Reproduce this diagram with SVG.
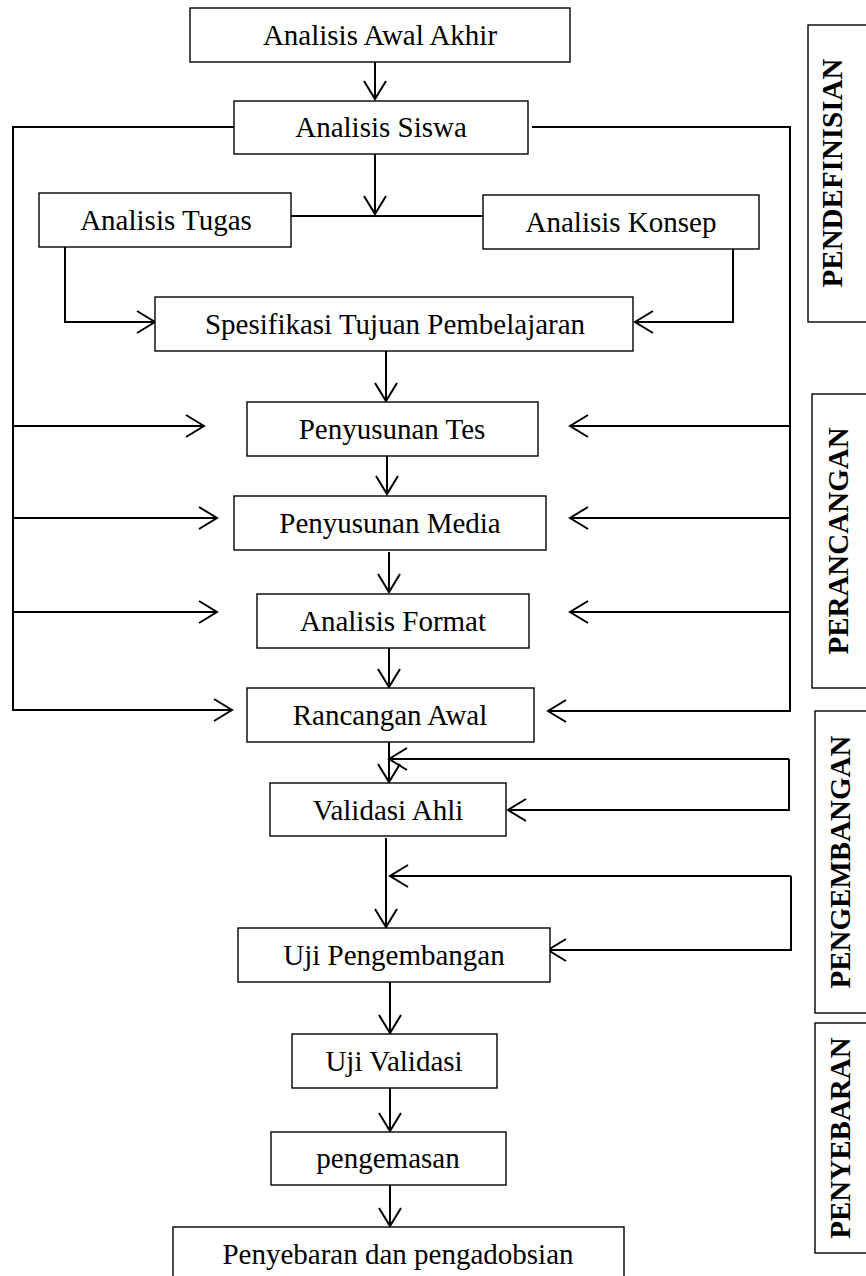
<svg xmlns="http://www.w3.org/2000/svg" width="866" height="1276" viewBox="0 0 866 1276">
<style>
.box{fill:#fff;stroke:#000;stroke-width:1.4}
.t{font-family:"Liberation Serif","Times New Roman",serif;font-size:29px;fill:#000;text-anchor:middle}
.s{font-family:"Liberation Serif","Times New Roman",serif;font-size:29px;font-weight:bold;fill:#000;text-anchor:middle}
.c{fill:none;stroke:#000;stroke-width:2}
</style>
<defs>
<marker id="arr" markerUnits="userSpaceOnUse" markerWidth="24" markerHeight="26" viewBox="0 0 24 26" refX="20" refY="13" orient="auto">
<path d="M2,2 L20,13 L2,24" fill="none" stroke="#000" stroke-width="2"/>
</marker>
</defs>
<rect width="866" height="1276" fill="#fff"/>
<g id="connectors">
<line class="c" x1="375" y1="62" x2="375" y2="99" marker-end="url(#arr)"/>
<polyline class="c" points="234,127 13,127 13,710 232,710" marker-end="url(#arr)"/>
<polyline class="c" points="532,127 790,127 790,711 548,711" marker-end="url(#arr)"/>
<line class="c" x1="375" y1="154" x2="375" y2="214" marker-end="url(#arr)"/>
<line class="c" x1="291" y1="216" x2="483" y2="216"/>
<polyline class="c" points="65,247 65,322 155,322" marker-end="url(#arr)"/>
<polyline class="c" points="733,249 733,322 635,322" marker-end="url(#arr)"/>
<line class="c" x1="386" y1="351" x2="386" y2="401" marker-end="url(#arr)"/>
<line class="c" x1="13" y1="426" x2="204" y2="426" marker-end="url(#arr)"/>
<line class="c" x1="13" y1="518" x2="217" y2="518" marker-end="url(#arr)"/>
<line class="c" x1="13" y1="612" x2="217" y2="612" marker-end="url(#arr)"/>
<line class="c" x1="790" y1="426" x2="570" y2="426" marker-end="url(#arr)"/>
<line class="c" x1="790" y1="518" x2="570" y2="518" marker-end="url(#arr)"/>
<line class="c" x1="790" y1="612" x2="570" y2="612" marker-end="url(#arr)"/>
<line class="c" x1="387" y1="456" x2="387" y2="494" marker-end="url(#arr)"/>
<line class="c" x1="389" y1="552" x2="389" y2="592" marker-end="url(#arr)"/>
<line class="c" x1="389" y1="648" x2="389" y2="687" marker-end="url(#arr)"/>
<line class="c" x1="389" y1="742" x2="389" y2="782" marker-end="url(#arr)"/>
<line class="c" x1="789" y1="759" x2="389" y2="759" marker-end="url(#arr)"/>
<polyline class="c" points="789,759 789,810 508,810" marker-end="url(#arr)"/>
<line class="c" x1="386" y1="838" x2="386" y2="927" marker-end="url(#arr)"/>
<line class="c" x1="791" y1="876" x2="390" y2="876" marker-end="url(#arr)"/>
<polyline class="c" points="791,876 791,950 548,950" marker-end="url(#arr)"/>
<line class="c" x1="390" y1="982" x2="390" y2="1033" marker-end="url(#arr)"/>
<line class="c" x1="390" y1="1088" x2="390" y2="1131" marker-end="url(#arr)"/>
<line class="c" x1="390" y1="1185" x2="390" y2="1226" marker-end="url(#arr)"/>
</g>
<g id="n-awal"><rect class="box" x="190" y="8" width="380" height="54"/><text class="t" x="380" y="45">Analisis Awal Akhir</text></g>
<g id="n-siswa"><rect class="box" x="234" y="101" width="294" height="53"/><text class="t" x="381" y="137">Analisis Siswa</text></g>
<g id="n-tugas"><rect class="box" x="39" y="193" width="252" height="54"/><text class="t" x="166" y="230">Analisis Tugas</text></g>
<g id="n-konsep"><rect class="box" x="483" y="195" width="276" height="54"/><text class="t" x="621" y="232">Analisis Konsep</text></g>
<g id="n-spesifikasi"><rect class="box" x="155" y="297" width="478" height="54"/><text class="t" x="395" y="334">Spesifikasi Tujuan Pembelajaran</text></g>
<g id="n-tes"><rect class="box" x="247" y="402" width="291" height="54"/><text class="t" x="392" y="439">Penyusunan Tes</text></g>
<g id="n-media"><rect class="box" x="234" y="496" width="312" height="54"/><text class="t" x="390" y="533">Penyusunan Media</text></g>
<g id="n-format"><rect class="box" x="257" y="594" width="272" height="54"/><text class="t" x="393" y="631">Analisis Format</text></g>
<g id="n-rancangan"><rect class="box" x="247" y="688" width="287" height="54"/><text class="t" x="390" y="725">Rancangan Awal</text></g>
<g id="n-validasi-ahli"><rect class="box" x="270" y="783" width="236" height="53"/><text class="t" x="388" y="820">Validasi Ahli</text></g>
<g id="n-uji-pengembangan"><rect class="box" x="238" y="928" width="312" height="54"/><text class="t" x="394" y="965">Uji Pengembangan</text></g>
<g id="n-uji-validasi"><rect class="box" x="292" y="1034" width="205" height="54"/><text class="t" x="394" y="1071">Uji Validasi</text></g>
<g id="n-pengemasan"><rect class="box" x="271" y="1132" width="235" height="53"/><text class="t" x="388" y="1168">pengemasan</text></g>
<g id="n-penyebaran"><rect class="box" x="173" y="1227" width="451" height="70"/><text class="t" x="398" y="1264">Penyebaran dan pengadobsian</text></g>
<g id="phase-pendefinisian"><rect class="box" x="808" y="25" width="70" height="297"/><text class="s" transform="translate(842,173) rotate(-90)">PENDEFINISIAN</text></g>
<g id="phase-perancangan"><rect class="box" x="812" y="394" width="70" height="294"/><text class="s" transform="translate(848,541) rotate(-90)">PERANCANGAN</text></g>
<g id="phase-pengembangan"><rect class="box" x="815" y="711" width="70" height="302"/><text class="s" transform="translate(850,862) rotate(-90)">PENGEMBANGAN</text></g>
<g id="phase-penyebaran"><rect class="box" x="815" y="1023" width="70" height="230"/><text class="s" transform="translate(850,1138) rotate(-90)">PENYEBARAN</text></g>
</svg>
